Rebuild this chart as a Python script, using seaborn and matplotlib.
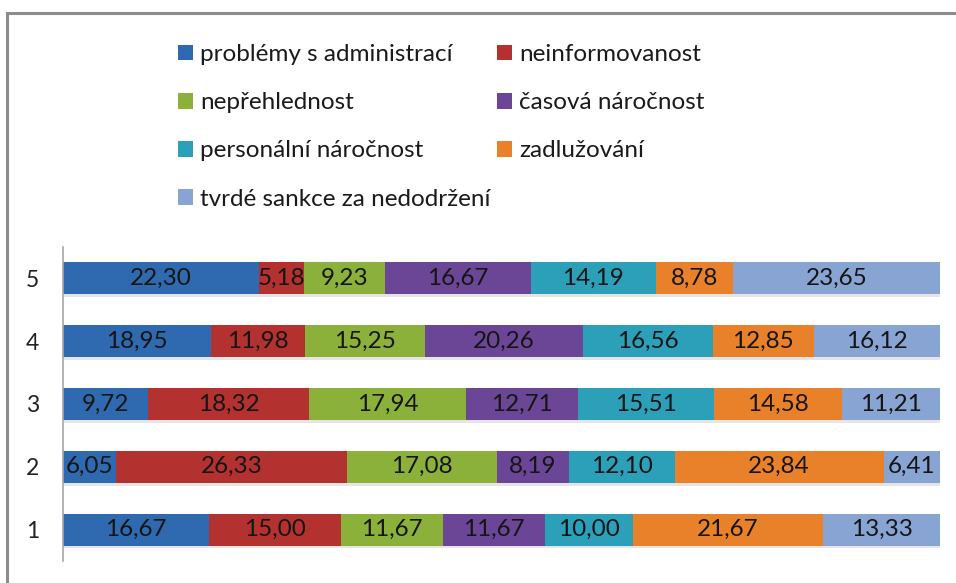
import matplotlib
matplotlib.use("Agg")
import matplotlib.pyplot as plt
import matplotlib.patheffects as pe
from matplotlib.patches import Patch, Rectangle
import numpy as np
import pandas as pd
import seaborn as sns

# Survey groups (rows) and shares of each problem type, in percent
groups = ["5", "4", "3", "2", "1"]
categories = [
    "problémy s administrací",
    "neinformovanost",
    "nepřehlednost",
    "časová náročnost",
    "personální náročnost",
    "zadlužování",
    "tvrdé sankce za nedodržení",
]
administrace = [22.30, 18.95, 9.72, 6.05, 16.67]
neinformovanost = [5.18, 11.98, 18.32, 26.33, 15.00]
neprehlednost = [9.23, 15.25, 17.94, 17.08, 11.67]
casova = [16.67, 20.26, 12.71, 8.19, 11.67]
personalni = [14.19, 16.56, 15.51, 12.10, 10.00]
zadluzovani = [8.78, 12.85, 14.58, 23.84, 21.67]
sankce = [23.65, 16.12, 11.21, 6.41, 13.33]

colors = ["#2F69AF", "#B3322F", "#8BB13A", "#6B4696",
          "#2C9FB9", "#E8812A", "#88A4D3"]

series = [administrace, neinformovanost, neprehlednost, casova,
          personalni, zadluzovani, sankce]
values = np.array(series)                     # (categories, groups)
shares = values / values.sum(axis=0) * 100    # 100 % stacked
cum = np.cumsum(shares, axis=0)               # right edge of each segment

sns.set_theme(style="white")
plt.rcParams["font.family"] = ["Lato", "DejaVu Sans"]

fig = plt.figure(figsize=(9.56, 5.83), dpi=100)
ax = fig.add_axes([63 / 956, 22 / 583, 877 / 956, 314 / 583])

# Draw cumulative totals from the last category backwards so each
# segment shows up as a stacked piece of the 100 % bar.
shadow = [pe.SimplePatchShadow(offset=(1.0, -2.0), shadow_rgbFace="#000000",
                               alpha=0.10), pe.Normal()]
for i in range(len(categories) - 1, -1, -1):
    df = pd.DataFrame({"group": groups, "value": cum[i]})
    sns.barplot(data=df, x="value", y="group", order=groups, orient="h",
                color=colors[i], saturation=1, width=0.51, ax=ax,
                linewidth=0)
    if i == len(categories) - 1:
        for bar in ax.patches:
            bar.set_path_effects(shadow)

# Value labels centred in each segment
for i in range(len(categories)):
    for j, g in enumerate(groups):
        center = cum[i, j] - shares[i, j] / 2
        ax.text(center, j, f"{values[i, j]:.2f}".replace(".", ","),
                ha="center", va="center", fontsize=17.5, color="#151515")

ax.set_xlim(0, 100)
ax.set_ylim(4.5, -0.5)
ax.set_xlabel("")
ax.set_ylabel("")
ax.set_xticks([])
ax.tick_params(axis="y", length=0, pad=17, labelsize=16.5, labelcolor="#222222")
for s in ["top", "right", "bottom"]:
    ax.spines[s].set_visible(False)
ax.spines["left"].set_color("#A6A6A6")
ax.spines["left"].set_linewidth(1.2)

# Legend: two columns, filled row by row
handles = [Patch(facecolor=c, edgecolor="none") for c in colors]
leg_kw = dict(loc="upper left", frameon=False, fontsize=17.5,
              handlelength=0.62, handleheight=0.62, handletextpad=0.3,
              labelspacing=1.12, borderpad=0, borderaxespad=0,
              labelcolor="#1a1a1a")
left_idx = [0, 2, 4, 6]
right_idx = [1, 3, 5]
fig.legend([handles[k] for k in left_idx], [categories[k] for k in left_idx],
           bbox_to_anchor=(178 / 956, 1 - 44 / 583), **leg_kw)
fig.legend([handles[k] for k in right_idx], [categories[k] for k in right_idx],
           bbox_to_anchor=(497 / 956, 1 - 44 / 583), **leg_kw)

# Chart frame
fig.patches.append(Rectangle((7 / 956, -0.01), 1.0, 1 - 13 / 583 + 0.01,
                             transform=fig.transFigure, fill=False,
                             edgecolor="#8C8C8C", linewidth=2.2))

fig.savefig("out.png", dpi=100)
